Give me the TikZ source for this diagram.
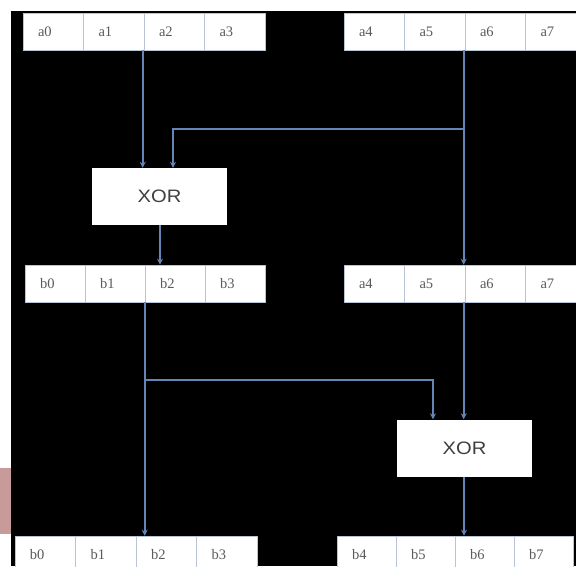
\documentclass[tikz,border=0pt]{standalone}
\usepackage{fontspec}
\setmainfont{Liberation Serif}
\newfontfamily\gatefont[FakeStretch=1.12]{Liberation Sans}
\usetikzlibrary{arrows.meta}
\definecolor{wirecol}{HTML}{6486B6}
\definecolor{cellline}{HTML}{B8C4D6}
\definecolor{celltext}{HTML}{5A5A5A}
\definecolor{tabcol}{HTML}{C89A9A}

\begin{document}
\begin{tikzpicture}[x=1pt,y=-1pt,
  cell/.style={draw=cellline, line width=0.6pt, fill=white, minimum height=37pt,
    inner ysep=0pt, inner xsep=15pt, align=left,
    font=\fontsize{14.5}{14.5}\selectfont, text=celltext},
  gate/.style={fill=white, draw=none, inner sep=0pt, minimum width=135pt,
    minimum height=57pt, font=\gatefont\fontsize{18}{18}\selectfont, text=black!75},
  wire/.style={draw=wirecol, line width=1.6pt, -{Stealth[length=6pt,width=6pt]}}]

\useasboundingbox (0,0) rectangle (576,566);
\clip (0,0) rectangle (576,566);

% page and dark panel
\fill[white] (0,0) rectangle (576,566);
\fill[black] (11,11) rectangle (576,566);
\fill[tabcol] (0,468) rectangle (11,534);

% input word a0..a7
\begin{scope}[every node/.style={cell, text width=30.5pt}]
  \node (ta0) at (53.25,31.5) {a0};
  \node (ta1) at (113.75,31.5) {a1};
  \node (ta2) at (174.25,31.5) {a2};
  \node (ta3) at (234.75,31.5) {a3};
  \node (ta4) at (374.25,31.5) {a4};
  \node (ta5) at (434.75,31.5) {a5};
  \node (ta6) at (495.25,31.5) {a6};
  \node (ta7) at (555.75,31.5) {a7};
\end{scope}

% intermediate word
\begin{scope}[every node/.style={cell, text width=30pt}]
  \node (mb0) at (55,283.5) {b0};
  \node (mb1) at (115,283.5) {b1};
  \node (mb2) at (175,283.5) {b2};
  \node (mb3) at (235,283.5) {b3};
\end{scope}
\begin{scope}[every node/.style={cell, text width=30.5pt}]
  \node (ma4) at (374.25,283.5) {a4};
  \node (ma5) at (434.75,283.5) {a5};
  \node (ma6) at (495.25,283.5) {a6};
  \node (ma7) at (555.75,283.5) {a7};
\end{scope}

% output word b0..b7
\begin{scope}[every node/.style={cell, text width=30.5pt}]
  \node (bb0) at (45.25,554.5) {b0};
  \node (bb1) at (105.75,554.5) {b1};
  \node (bb2) at (166.25,554.5) {b2};
  \node (bb3) at (226.75,554.5) {b3};
\end{scope}
\begin{scope}[every node/.style={cell, text width=29pt}]
  \node (bb4) at (366.5,554.5) {b4};
  \node (bb5) at (425.5,554.5) {b5};
  \node (bb6) at (484.5,554.5) {b6};
  \node (bb7) at (543.5,554.5) {b7};
\end{scope}

% XOR gates
\node[gate] (x1) at (159.5,196.5) {XOR};
\node[gate] (x2) at (464.5,448) {XOR};

% branch points
\coordinate (j1) at (464,129);
\coordinate (j2) at (145,380);

% first round
\draw[wire] ([xshift=-1pt]ta2.south west) -- ([xshift=-1pt]ta2.south west |- x1.north);
\draw[wire] (j1) -| ([xshift=13.5pt]x1.north);
\draw[wire] ([xshift=-1pt]ta6.south west) -- ([xshift=-1pt]ma6.north west);
\draw[wire] ([xshift=0.5pt]x1.south) -- ([xshift=0.5pt]x1.south |- mb2.north);

% second round
\draw[wire] (mb2.south west) -- (mb2.south west |- bb2.north);
\draw[wire] (j2) -| ([xshift=-31.5pt]x2.north);
\draw[wire] ([xshift=-1pt]ma6.south west) -- ([xshift=-1pt]ma6.south west |- x2.north);
\draw[wire] ([xshift=-0.5pt]x2.south) -- ([xshift=-0.5pt]x2.south |- bb6.north);
\end{tikzpicture}
\end{document}
